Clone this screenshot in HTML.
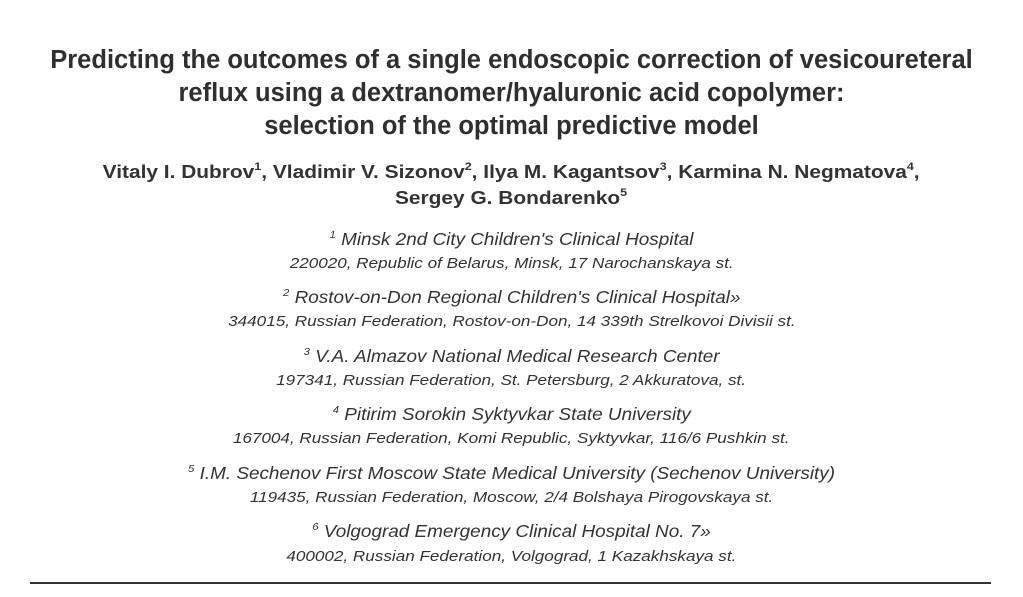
<!DOCTYPE html>
<html><head><meta charset="utf-8"><style>
body{margin:0;width:1023px;height:597px;background:#fff;position:relative;overflow:hidden;font-family:"Liberation Sans",sans-serif;color:#333}
.l{position:absolute;left:0;width:1023px;text-align:center;white-space:nowrap;line-height:1}
.l span{display:inline-block}
.t{font-weight:bold;font-size:25.5px;color:#2f2f2f}
.a{font-weight:bold;font-size:18px}
.a span{transform:scaleX(1.16)}
.f{font-style:italic;font-size:17.5px}
.f span{transform:scaleX(1.08)}
.d{font-style:italic;font-size:15px}
.d span{transform:scaleX(1.14)}
sup{font-size:60%;vertical-align:top;position:relative;top:-1px}
.hr{position:absolute;left:30px;width:961px;top:582px;height:2px;background:#333}
</style></head><body>
<div class="l t" style="top:48px">Predicting the outcomes of a single endoscopic correction of vesicoureteral</div>
<div class="l t" style="top:81px">reflux using a dextranomer/hyaluronic acid copolymer:</div>
<div class="l t" style="top:114px">selection of the optimal predictive model</div>
<div class="l a" style="top:163px"><span>Vitaly I. Dubrov<sup>1</sup>, Vladimir V. Sizonov<sup>2</sup>, Ilya M. Kagantsov<sup>3</sup>, Karmina N. Negmatova<sup>4</sup>,</span></div>
<div class="l a" style="top:189px"><span>Sergey G. Bondarenko<sup>5</sup></span></div>
<div class="l f" style="top:231px"><span><sup>1</sup> Minsk 2nd City Children's Clinical Hospital</span></div>
<div class="l d" style="top:256px"><span>220020, Republic of Belarus, Minsk, 17 Narochanskaya st.</span></div>
<div class="l f" style="top:289px"><span><sup>2</sup> Rostov-on-Don Regional Children's Clinical Hospital»</span></div>
<div class="l d" style="top:314px"><span>344015, Russian Federation, Rostov-on-Don, 14 339th Strelkovoi Divisii st.</span></div>
<div class="l f" style="top:348px"><span><sup>3</sup> V.A. Almazov National Medical Research Center</span></div>
<div class="l d" style="top:373px"><span>197341, Russian Federation, St. Petersburg, 2 Akkuratova, st.</span></div>
<div class="l f" style="top:406px"><span><sup>4</sup> Pitirim Sorokin Syktyvkar State University</span></div>
<div class="l d" style="top:431px"><span>167004, Russian Federation, Komi Republic, Syktyvkar, 116/6 Pushkin st.</span></div>
<div class="l f" style="top:465px"><span><sup>5</sup> I.M. Sechenov First Moscow State Medical University (Sechenov University)</span></div>
<div class="l d" style="top:490px"><span>119435, Russian Federation, Moscow, 2/4 Bolshaya Pirogovskaya st.</span></div>
<div class="l f" style="top:523px"><span><sup>6</sup> Volgograd Emergency Clinical Hospital No. 7»</span></div>
<div class="l d" style="top:549px"><span>400002, Russian Federation, Volgograd, 1 Kazakhskaya st.</span></div>
<div class="hr"></div>
</body></html>
